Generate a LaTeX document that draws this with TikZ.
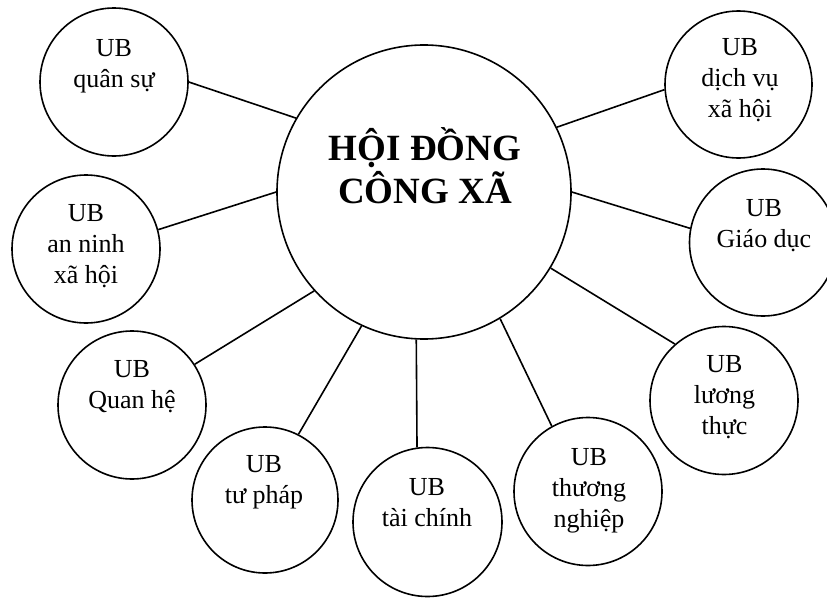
\documentclass[tikz,border=0pt]{standalone}
\usepackage{fontspec}
\setmainfont{Liberation Serif}
\begin{document}
\begin{tikzpicture}[x=1pt,y=-1pt,
  ring/.style={draw,circle,line width=1.6pt,inner sep=0pt,minimum size=148pt},
  bigring/.style={draw,circle,line width=1.6pt,inner sep=0pt,minimum size=294pt},
  txt/.style={align=center,anchor=base,inner sep=0pt,font=\fontsize{26}{31}\selectfont},
  bigtxt/.style={align=center,anchor=base,inner sep=0pt,font=\fontsize{37}{43}\selectfont\bfseries},
  link/.style={line width=1.6pt}]
\useasboundingbox (0,0) rectangle (827,597);
% circles
\node[bigring] (m) at (424,192) {};
\node[ring] (q) at (114,82) {};
\node[ring] (an) at (86,249) {};
\node[ring] (qh) at (132,405) {};
\node[ring,minimum size=146pt] (tp) at (265,500) {};
\node[ring,minimum size=149pt] (tc) at (427.5,522) {};
\node[ring] (tn) at (588,491.5) {};
\node[ring] (lt) at (724,400.5) {};
\node[ring,minimum size=147pt] (gd) at (763,242.5) {};
\node[ring,minimum size=147pt] (dv) at (738.5,84.5) {};
% texts (anchor = baseline of last line)
\node[bigtxt] (mt) at (425,203) {HỘI ĐỒNG\\CÔNG XÃ};
\node[txt] (qt) at (114,87) {UB\\quân sự};
\node[txt] (ant) at (86,283) {UB\\an ninh\\xã hội};
\node[txt] (qht) at (132,408) {UB\\Quan hệ};
\node[txt] (tpt) at (264,503) {UB\\tư pháp};
\node[txt] (tct) at (427,526) {UB\\tài chính};
\node[txt] (tnt) at (589,527) {UB\\thương\\nghiệp};
\node[txt] (ltt) at (724.5,434) {UB\\lương\\thực};
\node[txt] (gdt) at (764,247) {UB\\Giáo dục};
\node[txt] (dvt) at (740,117) {UB\\dịch vụ\\xã hội};
% connectors
\draw[link] (q.0) -- (m.150);
\draw[link] (an.15) -- (m.180);
\draw[link] (qh.33) -- (m.222);
\draw[link] (tp.63) -- (m.245);
\draw[link] (tc.98) -- (m.267);
\draw[link] (tn.119) -- (m.301);
\draw[link] (lt.131) -- (m.329);
\draw[link] (gd.169) -- (m.0);
\draw[link] (dv.184) -- (m.26);
\end{tikzpicture}
\end{document}
